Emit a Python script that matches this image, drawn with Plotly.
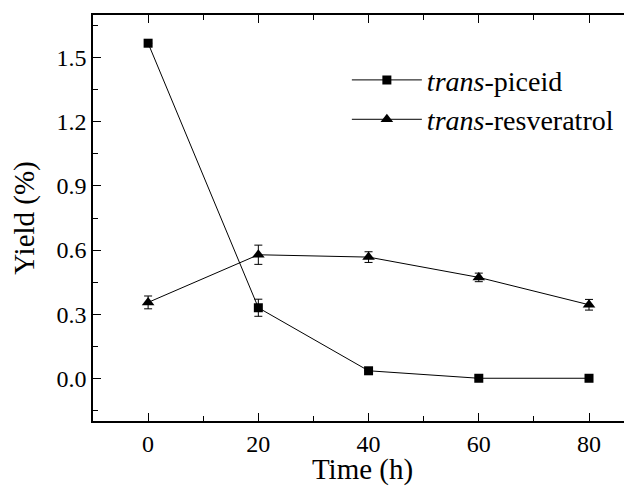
import plotly.graph_objects as go

time_h = [0, 20, 40, 60, 80]
piceid = [1.568, 0.33, 0.035, 0.0, 0.0]
piceid_err = [0.0, 0.04, 0.0, 0.0, 0.0]
resveratrol = [0.355, 0.578, 0.567, 0.472, 0.344]
resveratrol_err = [0.03, 0.045, 0.025, 0.02, 0.025]

FONT = "Times New Roman"

fig = go.Figure()
fig.add_trace(go.Scatter(
    x=time_h, y=piceid, mode="lines+markers",
    name="<i>trans</i>-piceid",
    line=dict(color="black", width=1),
    marker=dict(symbol="square", size=9, color="black"),
    error_y=dict(type="data", array=piceid_err, visible=True, color="black", thickness=1, width=4),
))
fig.add_trace(go.Scatter(
    x=time_h, y=resveratrol, mode="lines+markers",
    name="<i>trans</i>-resveratrol",
    line=dict(color="black", width=1),
    marker=dict(symbol="triangle-up", size=11, color="black"),
    error_y=dict(type="data", array=resveratrol_err, visible=True, color="black", thickness=1, width=4),
))

fig.update_layout(
    width=624, height=478,
    margin=dict(l=85, r=0, t=7, b=65, autoexpand=False),
    paper_bgcolor="white", plot_bgcolor="white",
    font=dict(family=FONT, color="black", size=24),
    showlegend=True,
    legend=dict(x=0.471, y=0.901, xanchor="left", yanchor="top",
                bgcolor="rgba(0,0,0,0)", font=dict(size=28, family=FONT),
                itemwidth=70, tracegroupgap=0),
    xaxis=dict(
        range=[-10, 87.8], tickvals=[0, 20, 40, 60, 80],
        ticks="inside", ticklen=8, tickwidth=1, tickcolor="black",
        showline=True, linecolor="black", linewidth=1.5, mirror="ticks",
        showgrid=False, zeroline=False, automargin=False,
        minor=dict(dtick=10, tick0=0, ticks="inside", ticklen=5, tickcolor="black", showgrid=False),
        title=dict(text="Time (h)", font=dict(size=29, family=FONT), standoff=13),
        tickfont=dict(size=24, family=FONT),
    ),
    yaxis=dict(
        range=[-0.2, 1.7], tickvals=[0.0, 0.3, 0.6, 0.9, 1.2, 1.5],
        ticktext=["0.0", "0.3", "0.6", "0.9", "1.2", "1.5"],
        ticks="inside", ticklen=8, tickwidth=1, tickcolor="black",
        showline=True, linecolor="black", linewidth=1.5,
        showgrid=False, zeroline=False, automargin=False,
        minor=dict(dtick=0.15, tick0=0, ticks="inside", ticklen=5, tickcolor="black", showgrid=False),
        title=dict(text="Yield (%)", font=dict(size=29, family=FONT), standoff=17),
        tickfont=dict(size=24, family=FONT),
    ),
)

fig.write_html("out.html")
